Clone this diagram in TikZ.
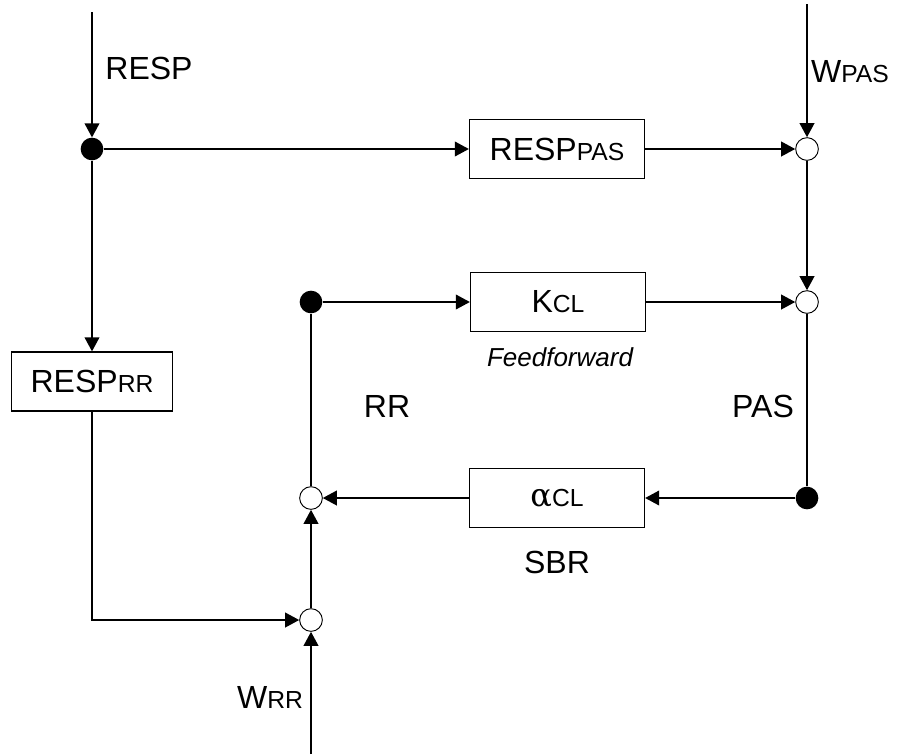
\documentclass[tikz,border=0pt]{standalone}
\usepackage{fontspec}
\setmainfont{Liberation Sans}
\newfontfamily\greekfont{DejaVu Serif}
\usepackage{tikz}
\usetikzlibrary{arrows.meta,positioning}

\newcommand{\lowidx}[1]{{\fontsize{18.5pt}{20pt}\selectfont #1}}

\begin{document}
\begin{tikzpicture}[x=0.75pt,y=-0.75pt]
		\tikzstyle{Block}	= [rectangle, draw, line width=1.2pt, minimum width=131pt, minimum height=44pt, inner sep=0pt, font=\fontsize{24pt}{26pt}\selectfont]
		\tikzstyle{Sum}		= [circle, draw, line width=0.7pt, fill=white, minimum size=17pt, inner sep=0pt]
		\tikzstyle{Branch}	= [circle, fill=black, minimum size=17pt, inner sep=0pt]
		\tikzstyle{Wire}	= [line width=1.2pt]
		\tikzstyle{Signal}	= [Wire, -{Triangle[length=10.5pt,width=11pt]}]
		\tikzstyle{Label}	= [inner sep=0pt, font=\fontsize{24pt}{26pt}\selectfont]

		\useasboundingbox (0,0) rectangle (898,754);

		% inputs
		\coordinate (inRESP) at (92,12);
		\coordinate (inWPAS) at (807,4);
		\coordinate (inWRR) at (311,754);

		\node (d1) at (92,149) [Branch] {};
		\node (d2) at (311,302) [Branch] {};
		\node (d3) at (807,498) [Branch] {};

		\node (s1) at (807,149) [Sum] {};
		\node (s2) at (807,302) [Sum] {};
		\node (s3) at (311,498) [Sum] {};
		\node (s4) at (311,620) [Sum] {};

		\node (respPAS) at (557,149) [Block] {RESP\lowidx{PAS}};
		\node (kCL) at (558,302) [Block] {K\lowidx{CL}};
		\node (alphaCL) at (557,498) [Block] {{\greekfont α}\lowidx{CL}};
		\node (respRR) at (92,381.5) [Block, minimum width=121pt] {RESP\lowidx{RR}};

		% labels
		\node at (149,68) [Label] {RESP};
		\node at (850,72) [Label] {W\lowidx{PAS}};
		\node at (387,406) [Label] {RR};
		\node at (763,406) [Label] {PAS};
		\node at (560,357) [Label, font=\fontsize{19.5pt}{21pt}\selectfont\itshape] {Feedforward};
		\node at (557,562) [Label] {SBR};
		\node at (270,697) [Label] {W\lowidx{RR}};

		\draw (inRESP) to (d1) [Signal];
		\draw (d1) to (respPAS) [Signal];
		\draw (respPAS) to (s1) [Signal];
		\draw (inWPAS) to (s1) [Signal];
		\draw (s1) to (s2) [Signal];

		\draw (d2) to (kCL) [Signal];
		\draw (kCL) to (s2) [Signal];
		\draw (s2) to (d3) [Wire];
		\draw (d3) to (alphaCL) [Signal];
		\draw (alphaCL) to (s3) [Signal];
		\draw (s3) to (d2) [Wire];

		\draw (d1) to (respRR) [Signal];
		\draw (respRR) |- (s4) [Signal];
		\draw (inWRR) to (s4) [Signal];
		\draw (s4) to (s3) [Signal];
	\end{tikzpicture}
\end{document}
